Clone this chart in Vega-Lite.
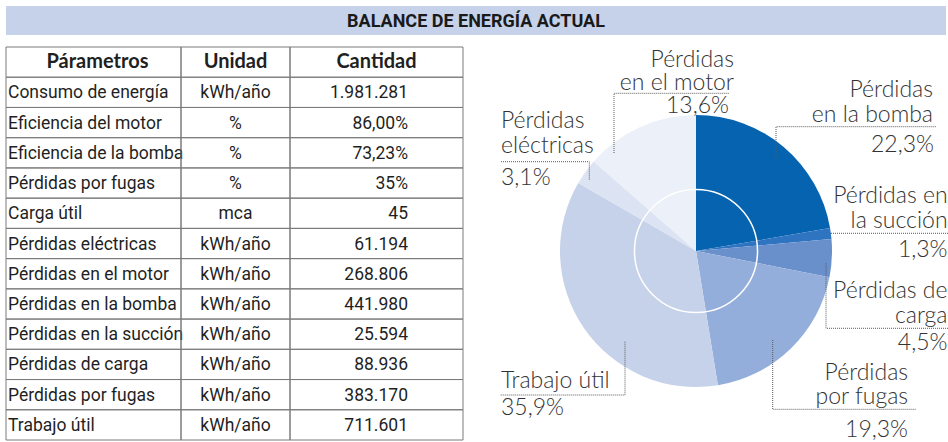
{
  "$schema": "https://vega.github.io/schema/vega-lite/v6.json",
  "background": "white",
  "padding": {"left": 5, "top": 6, "right": 0, "bottom": 0},
  "spacing": 25,
  "bounds": "flush",
  "config": {
    "view": {"stroke": null},
    "locale": {"number": {"decimal": ",", "thousands": ".", "grouping": [3], "currency": ["", " €"]}}
  },
  "datasets": {
    "titulo": [{"Titulo": "BALANCE DE ENERGÍA ACTUAL"}],
    "tabla": [
      {"Fila": 0, "Parametro": "Párametros", "Unidad": "Unidad", "Cantidad": "Cantidad"},
      {"Fila": 1, "Parametro": "Consumo de energía", "Unidad": "kWh/año", "Cantidad": "1.981.281"},
      {"Fila": 2, "Parametro": "Eficiencia del motor", "Unidad": "%", "Cantidad": "86,00%"},
      {"Fila": 3, "Parametro": "Eficiencia de la bomba", "Unidad": "%", "Cantidad": "73,23%"},
      {"Fila": 4, "Parametro": "Pérdidas por fugas", "Unidad": "%", "Cantidad": "35%"},
      {"Fila": 5, "Parametro": "Carga útil", "Unidad": "mca", "Cantidad": "45"},
      {"Fila": 6, "Parametro": "Pérdidas eléctricas", "Unidad": "kWh/año", "Cantidad": "61.194"},
      {"Fila": 7, "Parametro": "Pérdidas en el motor", "Unidad": "kWh/año", "Cantidad": "268.806"},
      {"Fila": 8, "Parametro": "Pérdidas en la bomba", "Unidad": "kWh/año", "Cantidad": "441.980"},
      {"Fila": 9, "Parametro": "Pérdidas en la succión", "Unidad": "kWh/año", "Cantidad": "25.594"},
      {"Fila": 10, "Parametro": "Pérdidas de carga", "Unidad": "kWh/año", "Cantidad": "88.936"},
      {"Fila": 11, "Parametro": "Pérdidas por fugas", "Unidad": "kWh/año", "Cantidad": "383.170"},
      {"Fila": 12, "Parametro": "Trabajo útil", "Unidad": "kWh/año", "Cantidad": "711.601"}
    ],
    "balance": [
      {"Categoria": "Pérdidas en la bomba", "Etiqueta": "Pérdidas\nen la bomba", "kWh": 441980, "Proporcion": 0.223, "Orden": 1},
      {"Categoria": "Pérdidas en la succión", "Etiqueta": "Pérdidas en\nla succión", "kWh": 25594, "Proporcion": 0.013, "Orden": 2},
      {"Categoria": "Pérdidas de carga", "Etiqueta": "Pérdidas de\ncarga", "kWh": 88936, "Proporcion": 0.045, "Orden": 3},
      {"Categoria": "Pérdidas por fugas", "Etiqueta": "Pérdidas\npor fugas", "kWh": 383170, "Proporcion": 0.193, "Orden": 4},
      {"Categoria": "Trabajo útil", "Etiqueta": "Trabajo útil", "kWh": 711601, "Proporcion": 0.359, "Orden": 5},
      {"Categoria": "Pérdidas eléctricas", "Etiqueta": "Pérdidas\neléctricas", "kWh": 61194, "Proporcion": 0.031, "Orden": 6},
      {"Categoria": "Pérdidas en el motor", "Etiqueta": "Pérdidas\nen el motor", "kWh": 268806, "Proporcion": 0.136, "Orden": 7}
    ]
  },
  "vconcat": [
    {
      "width": 940,
      "height": 29,
      "view": {"fill": "#c6d2ea", "stroke": null},
      "data": {"name": "titulo"},
      "mark": {"type": "text", "font": "Roboto, sans-serif", "fontWeight": "bold", "fontSize": 18, "color": "#1a1a1a", "baseline": "middle", "dy": 1},
      "encoding": {"text": {"field": "Titulo"}}
    },
    {
      "spacing": 0,
      "bounds": "flush",
      "hconcat": [
        {
          "width": 175,
          "height": 382,
          "data": {"name": "tabla"},
          "encoding": {"y": {"field": "Fila", "type": "ordinal", "sort": "ascending", "axis": null, "scale": {"type": "band", "paddingInner": 0, "paddingOuter": 0, "range": [-13, 380]}}},
          "layer": [
            {"mark": {"type": "rect", "fill": "transparent", "stroke": "#7a7a7a", "strokeWidth": 1}},
            {"transform": [{"filter": "datum.Fila == 0"}], "mark": {"type": "text", "font": "Lato, Open Sans, sans-serif", "fontWeight": "bold", "fontSize": 20, "color": "#1f1f1f", "baseline": "middle", "dx": 4}, "encoding": {"text": {"field": "Parametro"}}},
            {"transform": [{"filter": "datum.Fila > 0"}], "mark": {"type": "text", "font": "Roboto, sans-serif", "fontSize": 17.5, "color": "#1f1f1f", "align": "left", "baseline": "middle", "dx": -85.5, "dy": 1}, "encoding": {"text": {"field": "Parametro"}}}
          ]
        },
        {
          "width": 109,
          "height": 382,
          "data": {"name": "tabla"},
          "encoding": {"y": {"field": "Fila", "type": "ordinal", "sort": "ascending", "axis": null, "scale": {"type": "band", "paddingInner": 0, "paddingOuter": 0, "range": [-13, 380]}}},
          "layer": [
            {"mark": {"type": "rect", "fill": "transparent", "stroke": "#7a7a7a", "strokeWidth": 1}},
            {"transform": [{"filter": "datum.Fila == 0"}], "mark": {"type": "text", "font": "Lato, Open Sans, sans-serif", "fontWeight": "bold", "fontSize": 20, "color": "#1f1f1f", "baseline": "middle"}, "encoding": {"text": {"field": "Unidad"}}},
            {"transform": [{"filter": "datum.Fila > 0"}], "mark": {"type": "text", "font": "Roboto, sans-serif", "fontSize": 17.5, "color": "#1f1f1f", "align": "center", "baseline": "middle", "dy": 1}, "encoding": {"text": {"field": "Unidad"}}}
          ]
        },
        {
          "width": 173,
          "height": 382,
          "data": {"name": "tabla"},
          "encoding": {"y": {"field": "Fila", "type": "ordinal", "sort": "ascending", "axis": null, "scale": {"type": "band", "paddingInner": 0, "paddingOuter": 0, "range": [-13, 380]}}},
          "layer": [
            {"mark": {"type": "rect", "fill": "transparent", "stroke": "#7a7a7a", "strokeWidth": 1}},
            {"transform": [{"filter": "datum.Fila == 0"}], "mark": {"type": "text", "font": "Lato, Open Sans, sans-serif", "fontWeight": "bold", "fontSize": 20, "color": "#1f1f1f", "baseline": "middle"}, "encoding": {"text": {"field": "Cantidad"}}},
            {"transform": [{"filter": "datum.Fila > 0"}], "mark": {"type": "text", "font": "Roboto, sans-serif", "fontSize": 17.5, "color": "#1f1f1f", "align": "right", "baseline": "middle", "dx": 31.5, "dy": 1}, "encoding": {"text": {"field": "Cantidad"}}}
          ]
        },
        {
          "width": 466,
          "height": 382,
          "data": {"name": "balance"},
          "transform": [{"stack": "kWh", "groupby": [], "sort": [{"field": "Orden", "order": "ascending"}], "as": ["t0", "t1"]}],
          "layer": [
            {
              "mark": {"type": "arc", "outerRadius": 136},
              "encoding": {
                "theta": {"field": "t0", "type": "quantitative"},
                "theta2": {"field": "t1"},
                "color": {"field": "Categoria", "type": "nominal", "legend": null,
                  "scale": {"domain": ["Pérdidas en la bomba", "Pérdidas en la succión", "Pérdidas de carga", "Pérdidas por fugas", "Trabajo útil", "Pérdidas eléctricas", "Pérdidas en el motor"],
                            "range": ["#0563b0", "#2f74c0", "#6990cb", "#94aedb", "#c5d2ea", "#dce3f2", "#ecf0f8"]}}
              }
            },
            {
              "transform": [{"aggregate": [{"op": "max", "field": "t1", "as": "Total"}]}],
              "mark": {"type": "arc", "outerRadius": 61.5, "fill": "transparent", "stroke": "#ffffff", "strokeWidth": 1.5},
              "encoding": {"theta": {"field": "Total", "type": "quantitative"}}
            },
            {
              "transform": [{"aggregate": [{"op": "count", "as": "n"}]}],
              "mark": {"type": "point", "shape": "M-82,-98V-157.7H33M80,-93V-124.3H240M133,-17.7H253M130,12.3V77.3H253M76.7,89V158.3H220M-71,90.7V144H-196M-195,-89.3H-106.7V-71", "size": 4, "filled": false, "stroke": "#5a5a5a", "strokeWidth": 1, "strokeDash": [1, 1], "opacity": 1},
              "encoding": {}
            },
            {
              "transform": [{"filter": {"field": "Categoria", "equal": "Pérdidas en la bomba"}}],
              "mark": {"type": "text", "radius": 136, "align": "right", "baseline": "alphabetic", "dx": 237, "dy": -18.3, "lineHeight": 25, "lineBreak": "\n", "font": "Lato, Open Sans, sans-serif", "fontSize": 23, "fontWeight": 300, "color": "#333333"},
              "encoding": {"theta": {"field": "t0", "type": "quantitative"}, "text": {"field": "Etiqueta"}}
            },
            {
              "transform": [{"filter": {"field": "Categoria", "equal": "Pérdidas en la bomba"}}],
              "mark": {"type": "text", "radius": 136, "align": "right", "baseline": "alphabetic", "dx": 238, "dy": 36.7, "font": "Lato, Open Sans, sans-serif", "fontSize": 23, "fontWeight": 300, "color": "#333333"},
              "encoding": {"theta": {"field": "t0", "type": "quantitative"}, "text": {"field": "Proporcion", "type": "quantitative", "format": ".1%"}}
            },
            {
              "transform": [{"filter": {"field": "Categoria", "equal": "Pérdidas en la succión"}}],
              "mark": {"type": "text", "radius": 136, "align": "right", "baseline": "alphabetic", "dx": 117.5, "dy": -24.8, "lineHeight": 25, "lineBreak": "\n", "font": "Lato, Open Sans, sans-serif", "fontSize": 23, "fontWeight": 300, "color": "#333333"},
              "encoding": {"theta": {"field": "t0", "type": "quantitative"}, "text": {"field": "Etiqueta"}}
            },
            {
              "transform": [{"filter": {"field": "Categoria", "equal": "Pérdidas en la succión"}}],
              "mark": {"type": "text", "radius": 136, "align": "right", "baseline": "alphabetic", "dx": 117.5, "dy": 28.6, "font": "Lato, Open Sans, sans-serif", "fontSize": 23, "fontWeight": 300, "color": "#333333"},
              "encoding": {"theta": {"field": "t0", "type": "quantitative"}, "text": {"field": "Proporcion", "type": "quantitative", "format": ".1%"}}
            },
            {
              "transform": [{"filter": {"field": "Categoria", "equal": "Pérdidas de carga"}}],
              "mark": {"type": "text", "radius": 136, "align": "right", "baseline": "alphabetic", "dx": 116, "dy": 59.3, "lineHeight": 25, "lineBreak": "\n", "font": "Lato, Open Sans, sans-serif", "fontSize": 23, "fontWeight": 300, "color": "#333333"},
              "encoding": {"theta": {"field": "t0", "type": "quantitative"}, "text": {"field": "Etiqueta"}}
            },
            {
              "transform": [{"filter": {"field": "Categoria", "equal": "Pérdidas de carga"}}],
              "mark": {"type": "text", "radius": 136, "align": "right", "baseline": "alphabetic", "dx": 116, "dy": 111, "font": "Lato, Open Sans, sans-serif", "fontSize": 23, "fontWeight": 300, "color": "#333333"},
              "encoding": {"theta": {"field": "t0", "type": "quantitative"}, "text": {"field": "Proporcion", "type": "quantitative", "format": ".1%"}}
            },
            {
              "transform": [{"filter": {"field": "Categoria", "equal": "Pérdidas por fugas"}}],
              "mark": {"type": "text", "radius": 136, "align": "right", "baseline": "alphabetic", "dx": 78.6, "dy": 102.8, "lineHeight": 24, "lineBreak": "\n", "font": "Lato, Open Sans, sans-serif", "fontSize": 23, "fontWeight": 300, "color": "#333333"},
              "encoding": {"theta": {"field": "t0", "type": "quantitative"}, "text": {"field": "Etiqueta"}}
            },
            {
              "transform": [{"filter": {"field": "Categoria", "equal": "Pérdidas por fugas"}}],
              "mark": {"type": "text", "radius": 136, "align": "right", "baseline": "alphabetic", "dx": 78.6, "dy": 159.5, "font": "Lato, Open Sans, sans-serif", "fontSize": 23, "fontWeight": 300, "color": "#333333"},
              "encoding": {"theta": {"field": "t0", "type": "quantitative"}, "text": {"field": "Proporcion", "type": "quantitative", "format": ".1%"}}
            },
            {
              "transform": [{"filter": {"field": "Categoria", "equal": "Trabajo útil"}}],
              "mark": {"type": "text", "radius": 136, "align": "left", "baseline": "alphabetic", "dx": -216.9, "dy": 2.8, "lineBreak": "\n", "font": "Lato, Open Sans, sans-serif", "fontSize": 23, "fontWeight": 300, "color": "#333333"},
              "encoding": {"theta": {"field": "t0", "type": "quantitative"}, "text": {"field": "Etiqueta"}}
            },
            {
              "transform": [{"filter": {"field": "Categoria", "equal": "Trabajo útil"}}],
              "mark": {"type": "text", "radius": 136, "align": "left", "baseline": "alphabetic", "dx": -216.9, "dy": 29.8, "font": "Lato, Open Sans, sans-serif", "fontSize": 23, "fontWeight": 300, "color": "#333333"},
              "encoding": {"theta": {"field": "t0", "type": "quantitative"}, "text": {"field": "Proporcion", "type": "quantitative", "format": ".1%"}}
            },
            {
              "transform": [{"filter": {"field": "Categoria", "equal": "Pérdidas eléctricas"}}],
              "mark": {"type": "text", "radius": 136, "align": "left", "baseline": "alphabetic", "dx": -77.3, "dy": -54.6, "lineHeight": 25, "lineBreak": "\n", "font": "Lato, Open Sans, sans-serif", "fontSize": 23, "fontWeight": 300, "color": "#333333"},
              "encoding": {"theta": {"field": "t0", "type": "quantitative"}, "text": {"field": "Etiqueta"}}
            },
            {
              "transform": [{"filter": {"field": "Categoria", "equal": "Pérdidas eléctricas"}}],
              "mark": {"type": "text", "radius": 136, "align": "left", "baseline": "alphabetic", "dx": -77.3, "dy": 2.1, "font": "Lato, Open Sans, sans-serif", "fontSize": 23, "fontWeight": 300, "color": "#333333"},
              "encoding": {"theta": {"field": "t0", "type": "quantitative"}, "text": {"field": "Proporcion", "type": "quantitative", "format": ".1%"}}
            },
            {
              "transform": [{"filter": {"field": "Categoria", "equal": "Pérdidas en el motor"}}],
              "mark": {"type": "text", "radius": 136, "align": "right", "baseline": "alphabetic", "dx": 140.4, "dy": -94.8, "lineHeight": 23.5, "lineBreak": "\n", "font": "Lato, Open Sans, sans-serif", "fontSize": 23, "fontWeight": 300, "color": "#333333"},
              "encoding": {"theta": {"field": "t0", "type": "quantitative"}, "text": {"field": "Etiqueta"}}
            },
            {
              "transform": [{"filter": {"field": "Categoria", "equal": "Pérdidas en el motor"}}],
              "mark": {"type": "text", "radius": 136, "align": "right", "baseline": "alphabetic", "dx": 135.4, "dy": -48.2, "font": "Lato, Open Sans, sans-serif", "fontSize": 23, "fontWeight": 300, "color": "#333333"},
              "encoding": {"theta": {"field": "t0", "type": "quantitative"}, "text": {"field": "Proporcion", "type": "quantitative", "format": ".1%"}}
            }
          ]
        }
      ]
    }
  ]
}
